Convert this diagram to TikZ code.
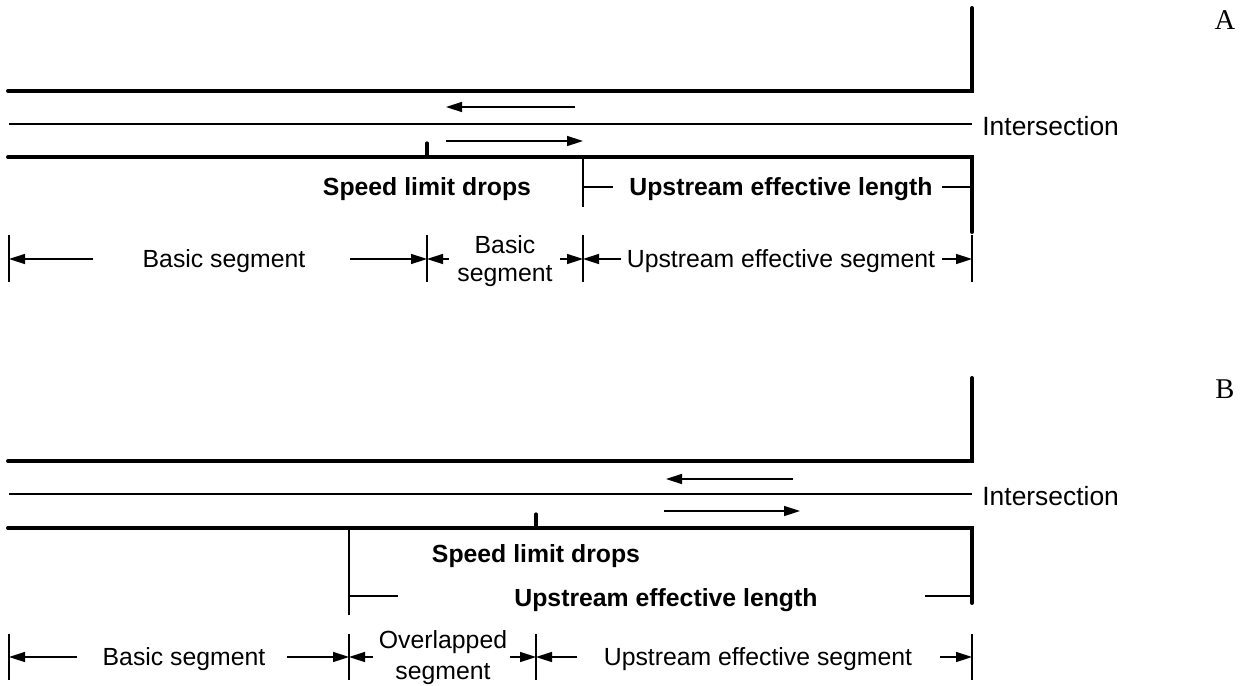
\documentclass[tikz,border=0pt]{standalone}
\usepackage{fontspec}
\setmainfont{Liberation Sans}
\newfontfamily\panelfont{Liberation Serif}
\usetikzlibrary{arrows.meta}
\begin{document}
\begin{tikzpicture}[x=0.5pt,y=-0.5pt,
  road/.style={line width=2pt, line cap=round, line join=miter},
  mline/.style={line width=0.75pt},
  marker/.style={line width=1.6pt, line cap=round},
  arr/.style={line width=0.75pt, -{Triangle[length=8pt,width=5pt]}},
  lbl/.style={font=\fontsize{12.4}{13}\selectfont, inner sep=0pt, align=center},
  blbl/.style={font=\fontsize{12.4}{13}\selectfont\bfseries, inner sep=0pt},
  plbl/.style={font=\panelfont\fontsize{14.3}{16}\selectfont, inner sep=0pt}]
\useasboundingbox (0,0) rectangle (1244,686);

% ================= Panel A =================
\node[plbl] (pA) at (1225,20) {A};
\coordinate (a1) at (8,91);  \coordinate (a2) at (972,91); \coordinate (a3) at (972,8);
\coordinate (a4) at (8,157); \coordinate (a5) at (972,157); \coordinate (a6) at (972,232);
\draw[road] (a1) -- (a2) -- (a3);
\draw[road] (a4) -- (a5) -- (a6);
\coordinate (ac1) at (9,124); \coordinate (ac2) at (972,124);
\draw[mline] (ac1) -- (ac2);
\node[lbl, anchor=west, font=\fontsize{13.2}{14}\selectfont] (intA) at (982,126) {Intersection};
\coordinate (al1) at (575,107); \coordinate (al2) at (446,107);
\coordinate (ar1) at (446,141); \coordinate (ar2) at (583,141);
\draw[arr] (al1) -- (al2);
\draw[arr] (ar1) -- (ar2);
\coordinate (am1) at (427,157); \coordinate (am2) at (427,143);
\draw[marker] (am1) -- (am2);
\node[blbl] (sA) at (427,189) {Speed limit drops};
% upstream effective length A
\coordinate (au1) at (583,157); \coordinate (au2) at (583,207);
\draw[mline] (au1) -- (au2);
\node[blbl] (uA) at (781,189) {Upstream effective length};
\coordinate (au3) at (583,187); \coordinate (au4) at (613,187);
\coordinate (au5) at (942,187); \coordinate (au6) at (972,187);
\draw[mline] (au3) -- (au4);
\draw[mline] (au5) -- (au6);
% dimension row A
\foreach \n/\x in {t1/9,t2/427,t3/583,t4/972}{
  \coordinate (A\n a) at (\x,235); \coordinate (A\n b) at (\x,282);
  \draw[mline] (A\n a) -- (A\n b);
}
\coordinate (Ad0) at (9,259);   \coordinate (Ad1) at (93,259);
\coordinate (Ad2) at (350,259); \coordinate (Ad3) at (427,259);
\coordinate (Ad4) at (449,259); \coordinate (Ad5) at (560,259);
\coordinate (Ad6) at (583,259); \coordinate (Ad7) at (621,259);
\coordinate (Ad8) at (942,259); \coordinate (Ad9) at (972,259);
\draw[arr] (Ad1) -- (Ad0);
\draw[arr] (Ad2) -- (Ad3);
\draw[arr] (Ad4) -- (Ad3);
\draw[arr] (Ad5) -- (Ad6);
\draw[arr] (Ad7) -- (Ad6);
\draw[arr] (Ad8) -- (Ad9);
\node[lbl] (bA1) at (224,261) {Basic segment};
\node[lbl, font=\fontsize{12.4}{13.6}\selectfont] (bA2) at (505,261) {Basic\\segment};
\node[lbl] (ueA) at (781,261) {Upstream effective segment};

% ================= Panel B =================
\node[plbl] (pB) at (1225,389) {B};
\coordinate (b1) at (8,461);  \coordinate (b2) at (972,461); \coordinate (b3) at (972,378);
\coordinate (b4) at (8,528);  \coordinate (b5) at (972,528); \coordinate (b6) at (972,603);
\draw[road] (b1) -- (b2) -- (b3);
\draw[road] (b4) -- (b5) -- (b6);
\coordinate (bc1) at (9,494); \coordinate (bc2) at (972,494);
\draw[mline] (bc1) -- (bc2);
\node[lbl, anchor=west, font=\fontsize{13.2}{14}\selectfont] (intB) at (982,496) {Intersection};
\coordinate (bl1) at (793,479); \coordinate (bl2) at (666,479);
\coordinate (br1) at (664,511); \coordinate (br2) at (800,511);
\draw[arr] (bl1) -- (bl2);
\draw[arr] (br1) -- (br2);
\coordinate (bm1) at (536,528); \coordinate (bm2) at (536,514);
\draw[marker] (bm1) -- (bm2);
\node[blbl] (sB) at (536,556) {Speed limit drops};
% upstream effective length B
\coordinate (bu1) at (349,528); \coordinate (bu2) at (349,615);
\draw[mline] (bu1) -- (bu2);
\node[blbl] (uB) at (666,600) {Upstream effective length};
\coordinate (bu3) at (349,596); \coordinate (bu4) at (398,596);
\coordinate (bu5) at (925,596); \coordinate (bu6) at (972,596);
\draw[mline] (bu3) -- (bu4);
\draw[mline] (bu5) -- (bu6);
% dimension row B
\foreach \n/\x in {t1/9,t2/349,t3/536,t4/972}{
  \coordinate (B\n a) at (\x,634); \coordinate (B\n b) at (\x,680);
  \draw[mline] (B\n a) -- (B\n b);
}
\coordinate (Bd0) at (9,657);   \coordinate (Bd1) at (77,657);
\coordinate (Bd2) at (287,657); \coordinate (Bd3) at (349,657);
\coordinate (Bd4) at (373,657); \coordinate (Bd5) at (510,657);
\coordinate (Bd6) at (536,657); \coordinate (Bd7) at (577,657);
\coordinate (Bd8) at (940,657); \coordinate (Bd9) at (972,657);
\draw[arr] (Bd1) -- (Bd0);
\draw[arr] (Bd2) -- (Bd3);
\draw[arr] (Bd4) -- (Bd3);
\draw[arr] (Bd5) -- (Bd6);
\draw[arr] (Bd7) -- (Bd6);
\draw[arr] (Bd8) -- (Bd9);
\node[lbl] (bB1) at (184,659) {Basic segment};
\node[lbl, font=\fontsize{12.4}{15.5}\selectfont] (oB) at (443,658) {Overlapped\\segment};
\node[lbl] (ueB) at (758,659) {Upstream effective segment};
\end{tikzpicture}
\end{document}
